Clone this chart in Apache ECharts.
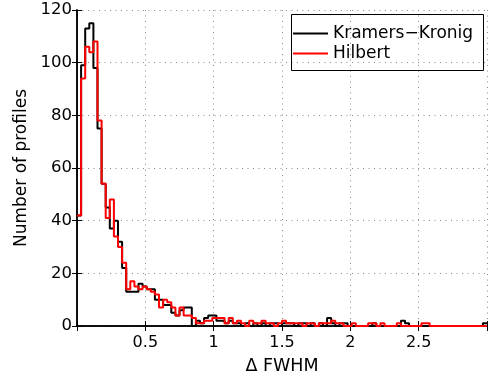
<!DOCTYPE html>
<html>
<head>
<meta charset="utf-8">
<script src="https://cdn.jsdelivr.net/npm/echarts@6/dist/echarts.min.js"></script>
<style>
  html, body { margin: 0; padding: 0; background: #fff; }
  #chart { width: 496px; height: 380px; }
</style>
</head>
<body>
<div id="chart"></div>
<script>
// Histogram of FWHM differences: 100 bins of width 0.03 starting at 0
const binStart = 0;
const binWidth = 0.03;

const kramersKronig = [
  42, 99, 113, 115, 98, 75, 54, 45, 37, 40,
  32, 22, 13, 13, 13, 16, 15, 14, 14, 10,
  10, 8, 8, 5, 4, 6, 7, 7, 0, 2,
  1, 3, 4, 4, 2, 2, 1, 2, 1, 1,
  0, 1, 0, 1, 0, 1, 0, 1, 1, 0,
  1, 1, 1, 0, 1, 1, 0, 1, 0, 1,
  0, 3, 1, 0, 1, 1, 0, 0, 0, 0,
  0, 0, 1, 0, 0, 0, 0, 0, 0, 2,
  1, 0, 0, 0, 0, 0, 0, 0, 0, 0,
  0, 0, 0, 0, 0, 0, 0, 0, 0, 1
];

const hilbert = [
  42, 94, 106, 104, 108, 78, 54, 41, 48, 34,
  30, 24, 14, 17, 15, 14, 15, 14, 13, 12,
  7, 10, 9, 7, 4, 7, 4, 4, 3, 1,
  1, 2, 2, 3, 3, 3, 1, 3, 1, 2,
  1, 0, 2, 1, 1, 2, 1, 1, 0, 1,
  2, 1, 1, 1, 1, 0, 1, 1, 0, 1,
  1, 1, 2, 1, 1, 0, 0, 1, 0, 0,
  0, 1, 1, 0, 1, 0, 0, 0, 1, 0,
  0, 0, 0, 0, 1, 1, 0, 0, 0, 0,
  0, 0, 0, 0, 0, 0, 0, 0, 0, 0
];

const seriesNames = ['Kramers\u2212Kronig', 'Hilbert'];
const seriesColors = ['#000000', '#ff0000'];
const xTicks = [0.5, 1, 1.5, 2, 2.5];
const yTicks = [0, 20, 40, 60, 80, 100, 120];

// stairs outline: one point per left bin edge, plus the closing right edge
function stairs(counts) {
  const pts = counts.map((c, k) => [binStart + k * binWidth, c]);
  pts.push([binStart + counts.length * binWidth, counts[counts.length - 1]]);
  return pts;
}

const FONT = 'DejaVu Sans';
const chart = echarts.init(document.getElementById('chart'), null, { renderer: 'canvas' });

const dotted = { color: '#8a8a8a', width: 1, type: [1, 4.5] };

chart.setOption({
  animation: false,
  backgroundColor: '#ffffff',
  grid: { left: 77, right: 9, top: 10, bottom: 52, containLabel: false },
  xAxis: [{
    type: 'value',
    min: 0, max: 3, interval: 0.5,
    name: '\u0394 FWHM',
    nameLocation: 'middle',
    nameGap: 31,
    nameTextStyle: { fontFamily: FONT, fontSize: 17.5, color: '#000' },
    axisLine: { show: true, onZero: false, lineStyle: { color: '#000', width: 1.5 } },
    axisTick: { show: true, inside: true, length: 5, lineStyle: { color: '#000' } },
    axisLabel: {
      fontFamily: FONT, fontSize: 16, color: '#000', margin: 9,
      formatter: v => (xTicks.indexOf(v) >= 0 ? String(v) : '')
    },
    splitLine: { show: true, lineStyle: dotted }
  }, {
    type: 'value', position: 'top',
    min: 0, max: 3, interval: 0.5,
    axisLine: { show: true, lineStyle: { color: '#000', width: 1.5 } },
    axisTick: { show: true, inside: true, length: 5, lineStyle: { color: '#000' } },
    axisLabel: { show: false },
    splitLine: { show: false }
  }],
  yAxis: [{
    type: 'value',
    min: 0, max: 120, interval: 20,
    name: 'Number of profiles',
    nameLocation: 'middle',
    nameGap: 43,
    nameTextStyle: { fontFamily: FONT, fontSize: 17, color: '#000' },
    axisLine: { show: true, lineStyle: { color: '#000', width: 1.5 } },
    axisTick: { show: true, inside: true, length: 5, lineStyle: { color: '#000' } },
    axisLabel: {
      fontFamily: FONT, fontSize: 16.5, color: '#000', margin: 5,
      formatter: v => (yTicks.indexOf(v) >= 0 ? String(v) : '')
    },
    splitLine: { show: true, lineStyle: dotted }
  }, {
    type: 'value', position: 'right',
    min: 0, max: 120, interval: 20,
    axisLine: { show: true, lineStyle: { color: '#000', width: 1.5 } },
    axisTick: { show: true, inside: true, length: 5, lineStyle: { color: '#000' } },
    axisLabel: { show: false },
    splitLine: { show: false }
  }],
  legend: {
    orient: 'vertical',
    left: 293, top: 25,
    itemWidth: 35, itemHeight: 12, itemGap: 3,
    itemTextGap: 4,
    padding: 0,
    icon: 'path://M0,5 L35,5 L35,7 L0,7 Z',
    textStyle: { fontFamily: FONT, fontSize: 17, color: '#000', lineHeight: 16, padding: [0, 0, 0, 0] },
    data: seriesNames
  },
  graphic: [{
    type: 'rect',
    shape: { x: 291.5, y: 14.5, width: 192, height: 56 },
    style: { fill: 'none', stroke: '#000', lineWidth: 1 },
    z: 90, silent: true
  }],
  series: [{
    name: seriesNames[0],
    type: 'line',
    step: 'end',
    symbol: 'none',
    data: stairs(kramersKronig),
    lineStyle: { color: seriesColors[0], width: 2 },
    itemStyle: { color: seriesColors[0] },
    z: 3
  }, {
    name: seriesNames[1],
    type: 'line',
    step: 'end',
    symbol: 'none',
    data: stairs(hilbert),
    lineStyle: { color: seriesColors[1], width: 2 },
    itemStyle: { color: seriesColors[1] },
    z: 4
  }]
});
</script>
</body>
</html>
